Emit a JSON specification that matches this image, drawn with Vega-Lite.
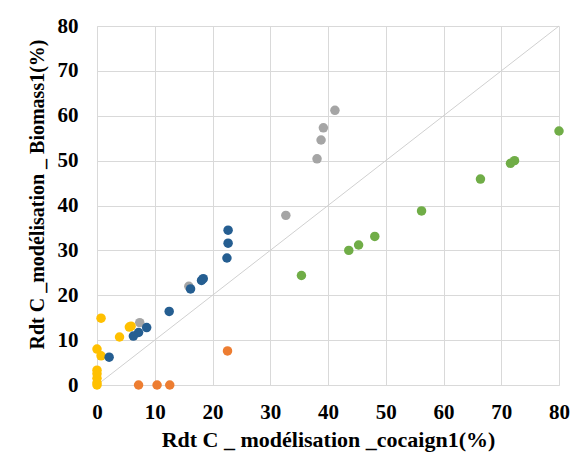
{
  "$schema": "https://vega.github.io/schema/vega-lite/v6.json",
  "autosize": "none",
  "width": 462,
  "height": 359,
  "padding": {"left": 97, "top": 26, "right": 12, "bottom": 74},
  "background": "white",
  "config": {
    "view": {"stroke": null},
    "axis": {
      "labelFont": "Liberation Serif",
      "titleFont": "Liberation Serif",
      "labelFontWeight": "bold",
      "titleFontWeight": "bold",
      "labelFontSize": 21,
      "labelColor": "#000000",
      "titleColor": "#000000",
      "gridColor": "#d9d9d9",
      "gridWidth": 1,
      "domainColor": "#d9d9d9",
      "ticks": false,
      "labelFlush": false,
      "labelOverlap": false
    }
  },
  "datasets": {
    "pts": [
      {"serie": "S2", "x": 22.6, "y": 7.6},
      {"serie": "S2", "x": 7.2, "y": 0},
      {"serie": "S2", "x": 10.4, "y": 0},
      {"serie": "S2", "x": 12.6, "y": 0},
      {"serie": "S3", "x": 41.2, "y": 61.2},
      {"serie": "S3", "x": 39.2, "y": 57.3},
      {"serie": "S3", "x": 38.8, "y": 54.6},
      {"serie": "S3", "x": 38.1, "y": 50.4},
      {"serie": "S3", "x": 32.7, "y": 37.8},
      {"serie": "S3", "x": 15.9, "y": 22.0},
      {"serie": "S3", "x": 7.4, "y": 13.9},
      {"serie": "S4", "x": 0.7, "y": 14.9},
      {"serie": "S4", "x": 5.6, "y": 12.9},
      {"serie": "S4", "x": 5.9, "y": 13.1},
      {"serie": "S4", "x": 3.9, "y": 10.7},
      {"serie": "S4", "x": 0.0, "y": 8.0},
      {"serie": "S4", "x": 0.7, "y": 6.5},
      {"serie": "S4", "x": 0.0, "y": 3.3},
      {"serie": "S4", "x": 0.0, "y": 2.5},
      {"serie": "S4", "x": 0.0, "y": 1.5},
      {"serie": "S4", "x": 0.0, "y": 0.5},
      {"serie": "S4", "x": 0.0, "y": 0.0},
      {"serie": "S6", "x": 80.0, "y": 56.6},
      {"serie": "S6", "x": 72.3, "y": 50.0},
      {"serie": "S6", "x": 71.6, "y": 49.4},
      {"serie": "S6", "x": 66.4, "y": 45.9},
      {"serie": "S6", "x": 56.2, "y": 38.8},
      {"serie": "S6", "x": 48.1, "y": 33.1},
      {"serie": "S6", "x": 45.3, "y": 31.2},
      {"serie": "S6", "x": 43.6, "y": 30.0},
      {"serie": "S6", "x": 35.4, "y": 24.4},
      {"serie": "S7", "x": 22.7, "y": 34.5},
      {"serie": "S7", "x": 22.7, "y": 31.6},
      {"serie": "S7", "x": 22.5, "y": 28.3},
      {"serie": "S7", "x": 18.4, "y": 23.7},
      {"serie": "S7", "x": 18.1, "y": 23.3},
      {"serie": "S7", "x": 16.2, "y": 21.4},
      {"serie": "S7", "x": 12.5, "y": 16.4},
      {"serie": "S7", "x": 8.6, "y": 12.8},
      {"serie": "S7", "x": 7.2, "y": 11.7},
      {"serie": "S7", "x": 6.3, "y": 10.9},
      {"serie": "S7", "x": 2.1, "y": 6.2}
    ],
    "diag": [
      {"x": 0, "y": 0},
      {"x": 80, "y": 80}
    ]
  },
  "layer": [
    {
      "data": {"name": "diag"},
      "mark": {"type": "line", "color": "#d0d0d0", "strokeWidth": 1},
      "encoding": {
        "x": {"field": "x", "type": "quantitative", "scale": {"domain": [0, 80]}, "axis": {"values": [0,10,20,30,40,50,60,70,80], "title": "Rdt C _ modélisation _cocaign1(%)", "titleFontSize": 22, "labelPadding": 16, "titlePadding": 7}},
        "y": {"field": "y", "type": "quantitative", "scale": {"domain": [0, 80]}, "axis": {"values": [0,10,20,30,40,50,60,70,80], "title": "Rdt C _modélisation _ Biomass1(%)", "titleFontSize": 20, "labelPadding": 19, "titlePadding": 10, "titleY": 168}}
      }
    },
    {
      "data": {"name": "pts"},
      "mark": {"type": "circle", "size": 90, "opacity": 1},
      "encoding": {
        "x": {"field": "x", "type": "quantitative"},
        "y": {"field": "y", "type": "quantitative"},
        "color": {
          "field": "serie",
          "type": "nominal",
          "scale": {"domain": ["S2", "S3", "S4", "S6", "S7"], "range": ["#ed7d31", "#a5a5a5", "#ffc000", "#70ad47", "#255e91"]},
          "legend": null
        }
      }
    }
  ]
}
